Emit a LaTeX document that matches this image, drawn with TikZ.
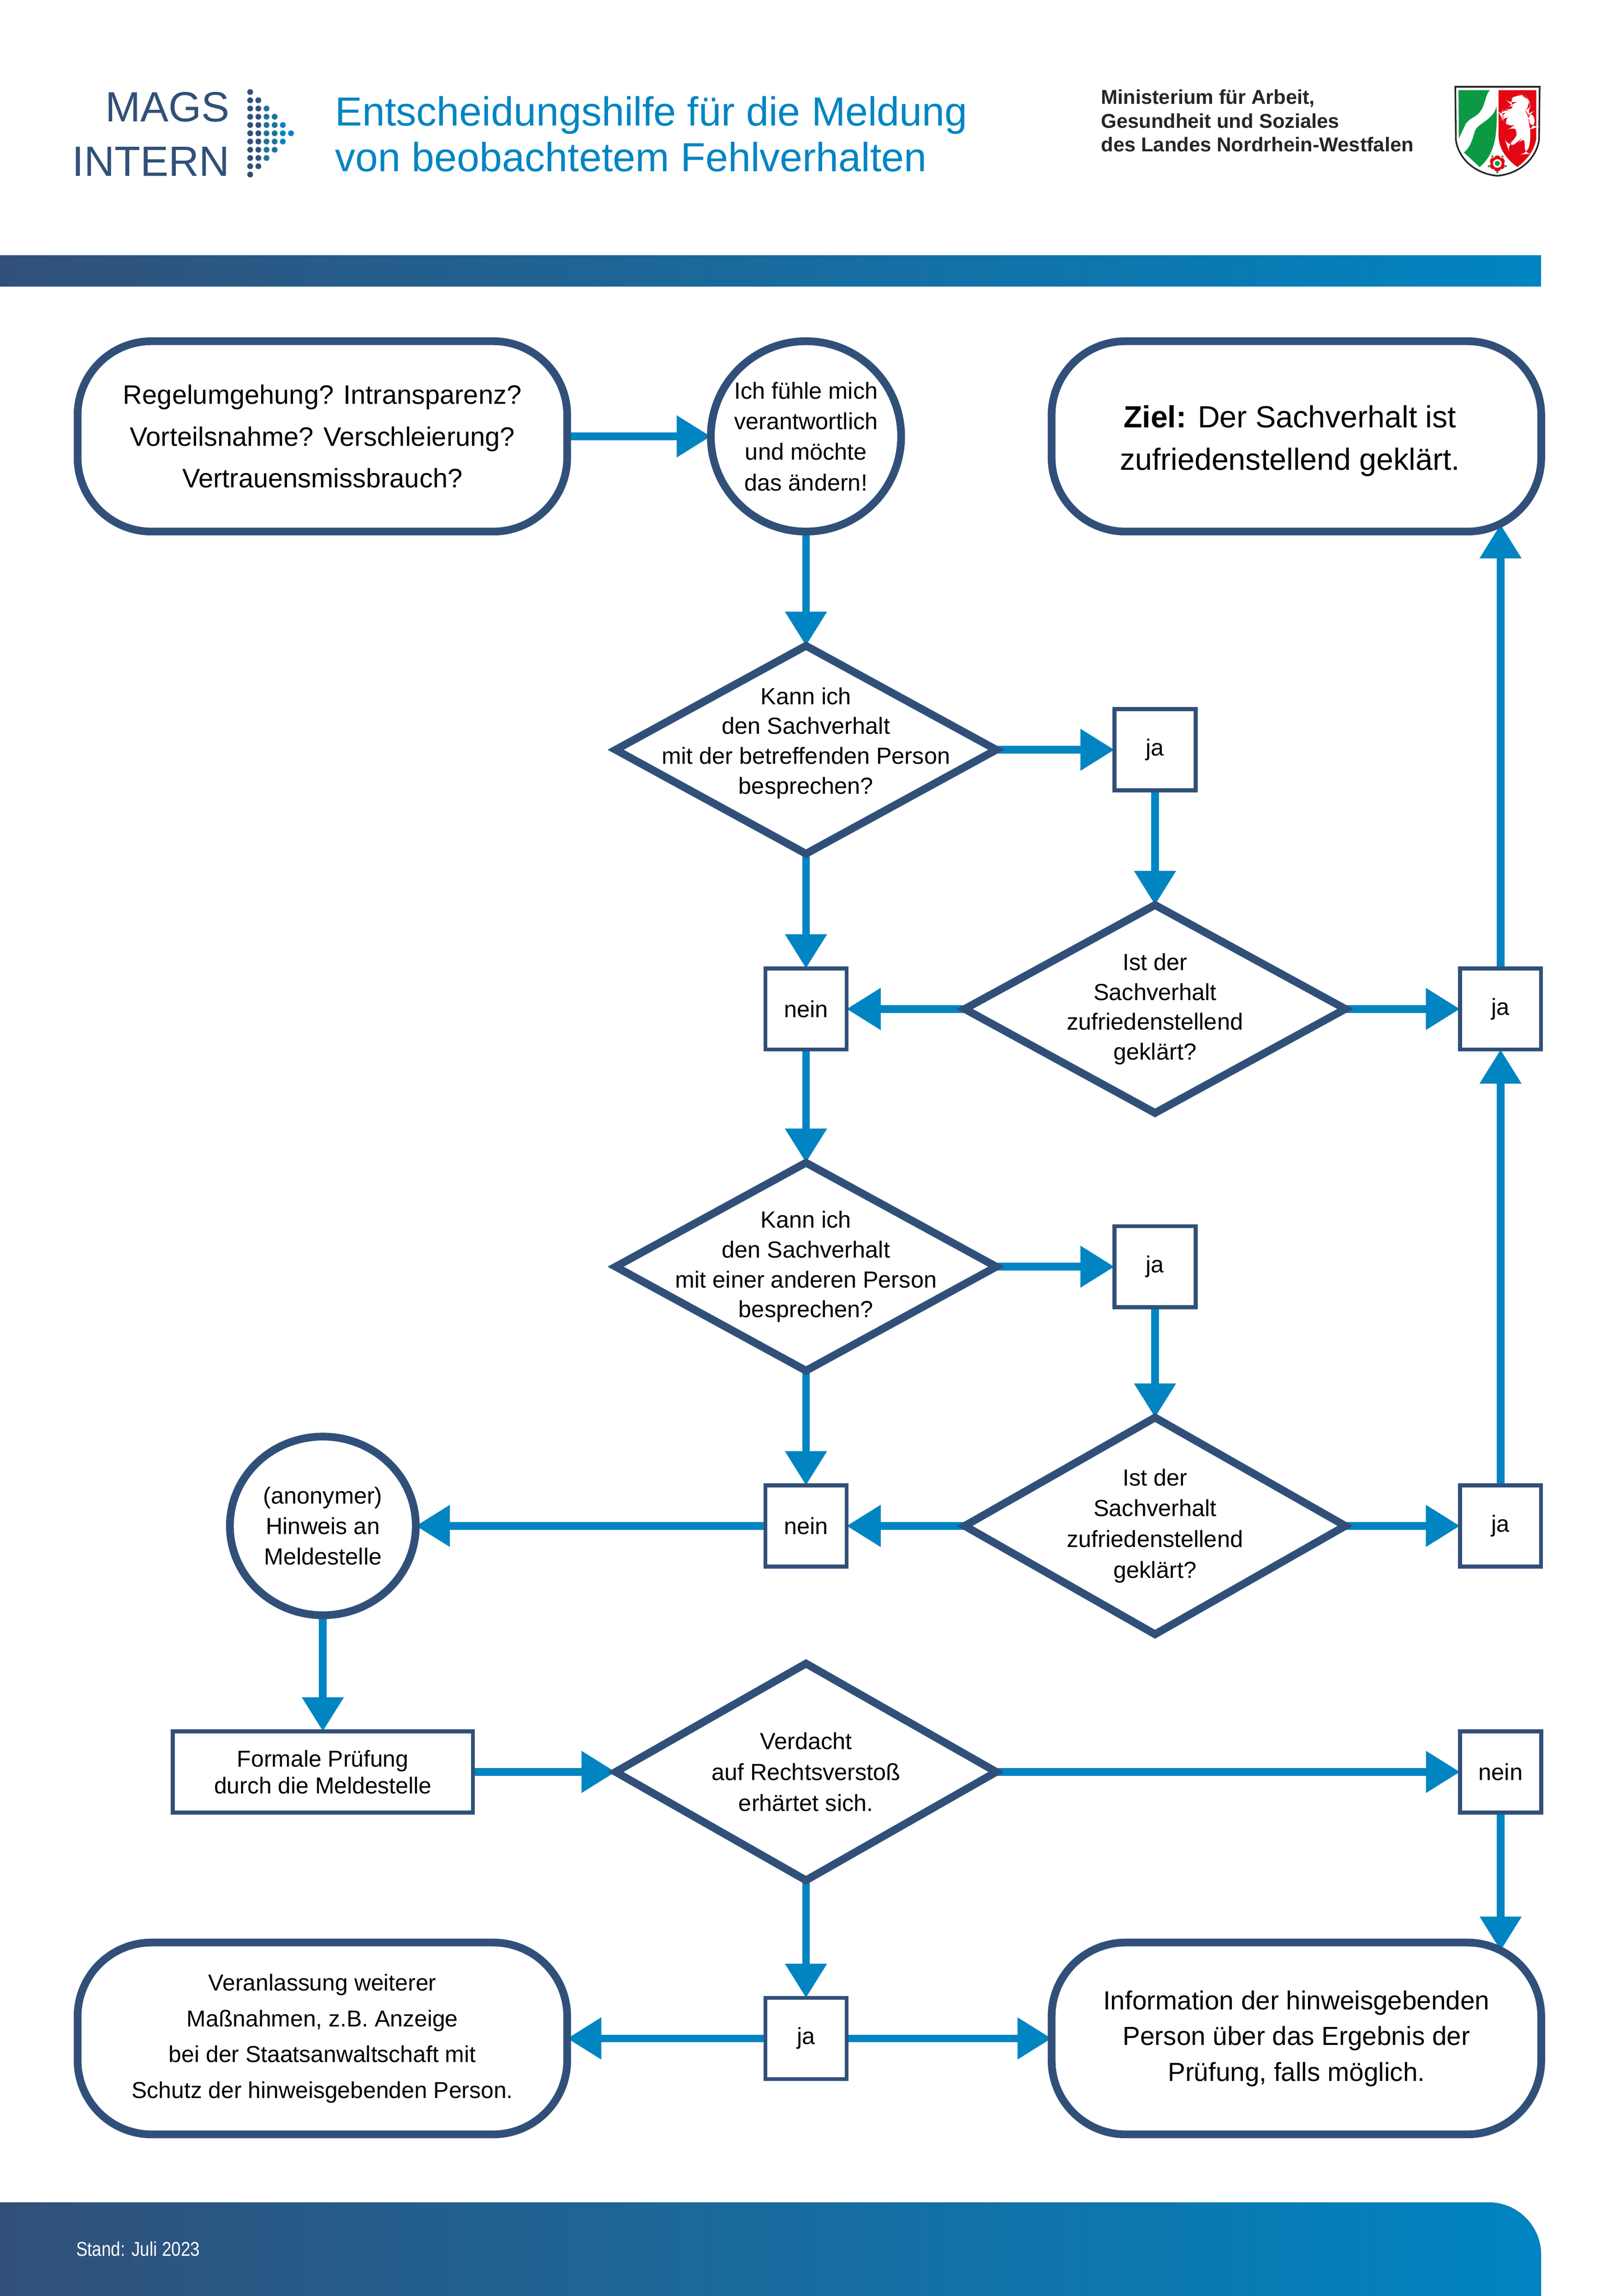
\documentclass[tikz,border=0pt]{standalone}
\usepackage{fontspec}
\setmainfont{Liberation Sans}
\newfontfamily\condfont[FakeStretch=0.85]{Liberation Sans}
\usepackage{xcolor}
\usetikzlibrary{arrows.meta, shapes.geometric, positioning, backgrounds}
\definecolor{navy}{HTML}{315079}
\definecolor{flowblue}{HTML}{0085C2}
\definecolor{midblue}{HTML}{1D7399}
\definecolor{nrwgreen}{HTML}{0B9A43}
\definecolor{nrwred}{HTML}{E30613}

\begin{document}
\begin{tikzpicture}[
                on grid,
                every node/.style={text=black, outer sep=0pt},
                endbox/.style={rectangle, rounded corners=0.96cm, draw=navy, line width=2.86pt, fill=white, minimum width=6.354cm, minimum height=2.47cm, align=center},
                roundnode/.style={draw=navy, line width=2.86pt, fill=white, inner sep=0pt, align=center, font=\fontsize{8.6}{11.3}\selectfont},
                question/.style={diamond, draw=navy, line width=2.86pt, fill=white, minimum width=4.94cm, minimum height=2.698cm, inner xsep=-1.2cm, inner ysep=-0.7cm, align=center, font=\fontsize{8.6}{11}\selectfont},
                answer/.style={rectangle, draw=navy, line width=1.45pt, fill=white, minimum size=1.053cm, font=\fontsize{8.6}{11}\selectfont},
                flow/.style={-{Triangle[length=12.6pt,width=14.75pt]}, color=flowblue, line width=2.85pt}
            ]
                \useasboundingbox (0,0) rectangle (21.006,-29.79);

                % Header and footer
                \fill[left color=navy, right color=flowblue] (0,-3.315) rectangle (20,-3.715);
                \fill[left color=navy, right color=flowblue] (0,-29.79) -- (0,-28.575) [rounded corners=0.68cm] -- (20,-28.575) [sharp corners] -- (20,-29.79) -- cycle;
                \node[anchor=east, inner sep=0pt, align=right, text=navy, font=\fontsize{15.6}{20}\selectfont] (logotext) at (2.98,-1.74) {MAGS\\INTERN};
                \node[anchor=west, inner sep=0pt, align=left, text=flowblue, font=\fontsize{15}{16.8}\selectfont] (title) at (4.351,-1.74) {Entscheidungshilfe für die Meldung\\von beobachtetem Fehlverhalten};
                \node[anchor=west, inner sep=0pt, align=left, text=black!85, font=\fontsize{7.4}{8.8}\selectfont\bfseries] (ministry) at (14.29,-1.567) {Ministerium für Arbeit,\\Gesundheit und Soziales\\des Landes Nordrhein-Westfalen};
                \node[anchor=west, inner sep=0pt, text=white, font=\fontsize{7.4}{10}\selectfont\condfont] (stand) at (0.988,-29.18) {Stand: Juli 2023};

                % Logo dots
                \foreach \col/\dotcolor in {0/navy,1/navy,2/midblue,3/midblue,4/flowblue,5/flowblue} {
                    \pgfmathtruncatemacro{\rows}{5-\col}
                    \foreach \row in {-\rows,...,\rows}
                        \fill[\dotcolor] ({3.247+0.1058*\col},{-1.729+0.107*\row}) circle (0.0377);
                }

                % Coat of arms
                \begin{scope}[shift={(18.263,-0.778)}, x=0.001996cm, y=-0.001996cm]
                    \draw[black!85, line width=0.6pt, fill=white] (312,174) -- (860,174) -- (856,520) .. controls (835,650) and (720,740) .. (585,752) .. controls (450,740) and (335,650) .. (316,520) -- cycle;
                    \fill[nrwgreen] (333,196) -- (537,196) .. controls (505,225) and (510,290) .. (470,340) .. controls (440,375) and (395,380) .. (375,425) -- (335,510) -- cycle;
                    \fill[nrwgreen] (580,300) .. controls (583,450) and (585,600) .. (470,695) -- (368,600) .. controls (410,570) and (425,510) .. (440,460) .. controls (460,410) and (560,390) .. (580,300) -- cycle;
                    \fill[nrwred] (593,196) -- (838,196) -- (838,510) .. controls (825,590) and (775,650) .. (715,695) .. controls (640,640) and (590,570) .. (593,480) -- cycle;
                    \fill[white, rounded corners=3pt] (712,218) -- (770,235) -- (790,265) -- (800,300) -- (770,330) -- (785,350) -- (790,420) -- (805,490) -- (782,610) -- (755,612) -- (772,520) -- (750,495) -- (725,540) -- (650,562) -- (645,548) -- (708,520) -- (718,455) -- (695,425) -- (665,445) -- (620,385) -- (650,372) -- (640,340) -- (612,372) -- (605,360) -- (625,308) -- (680,340) -- (698,280) -- (678,292) -- (655,272) -- cycle;
                    \fill[white, rounded corners=3pt] (782,350) -- (820,333) -- (832,440) -- (815,445) -- (785,390) -- cycle;
                    \foreach \ang in {30,90,...,330}
                        \fill[nrwred] (585,672) ++(\ang:30) circle (22);
                    \fill[white] (585,672) circle (28);
                    \fill[nrwgreen] (585,672) circle (17);
                    \foreach \dotx/\doty in {553/627,618/627,530/690,640/690,585/730}
                        \fill[nrwgreen] (\dotx,\doty) circle (7);
                \end{scope}

                % Top row
                \node[endbox, font=\fontsize{9.85}{15.4}\selectfont] (start) at (4.184,-5.662) {Regelumgehung? Intransparenz?\\Vorteilsnahme? Verschleierung?\\Vertrauensmissbrauch?};
                \node[roundnode, circle, minimum size=2.47cm, right=6.276cm of start] (feel) {Ich fühle mich\\verantwortlich\\und möchte\\das ändern!};
                \node[endbox, font=\fontsize{11.3}{15.7}\selectfont, right=6.365cm of feel] (goal) {\rule{0pt}{11.5pt}\textbf{Ziel:} Der Sachverhalt ist\hspace*{4.8pt}\\zufriedenstellend geklärt.\hspace*{4.8pt}};

                % First talk
                \node[question, text depth=6.7pt, below=4.066cm of feel] (talkone) {Kann ich\\den Sachverhalt\\mit der betreffenden Person\\besprechen?};
                \node[answer, right=4.53cm of talkone] (yesone) {ja};
                \node[question, below=3.363cm of yesone] (solvedone) {Ist der\\Sachverhalt\\zufriedenstellend\\geklärt?};
                \node[answer, below=3.363cm of talkone] (noone) {nein};
                \node[answer, right=4.484cm of solvedone] (doneone) {ja};

                % Second talk
                \node[question, below=3.344cm of noone] (talktwo) {Kann ich\\den Sachverhalt\\mit einer anderen Person\\besprechen?};
                \node[answer, right=4.53cm of talktwo] (yestwo) {ja};
                \node[question, minimum height=2.812cm, below=3.363cm of yestwo, font=\fontsize{8.6}{11.4}\selectfont] (solvedtwo) {Ist der\\Sachverhalt\\zufriedenstellend\\geklärt?};
                \node[answer, below=3.363cm of talktwo] (notwo) {nein};
                \node[answer, right=4.484cm of solvedtwo] (donetwo) {ja};

                % Reporting
                \node[roundnode, ellipse, minimum width=2.413cm, minimum height=2.318cm, left=6.27cm of notwo] (hint) {(anonymer)\\Hinweis an\\Meldestelle};
                \node[answer, minimum width=3.895cm, align=center, below=3.192cm of hint, font=\fontsize{8.5}{9.8}\selectfont] (check) {Formale Prüfung\\durch die Meldestelle};
                \node[question, minimum height=2.812cm, right=6.27cm of check, font=\fontsize{8.6}{11.4}\selectfont] (suspicion) {Verdacht\\auf Rechtsverstoß\\erhärtet sich.};
                \node[answer, right=9.0155cm of suspicion] (nothree) {nein};
                \node[answer, below=3.458cm of suspicion] (yesthree) {ja};
                \node[endbox, left=6.276cm of yesthree, minimum height=2.489cm, font=\fontsize{8.5}{13.2}\selectfont] (measures) {Veranlassung weiterer\\Maßnahmen, z.B. Anzeige\\bei der Staatsanwaltschaft mit\\Schutz der hinweisgebenden Person.};
                \node[endbox, right=6.365cm of yesthree, minimum height=2.489cm, font=\fontsize{9.65}{13.2}\selectfont] (inform) {Information der hinweisgebenden\\Person über das Ergebnis der\\Prüfung, falls möglich.};

                % Connectors
                \begin{scope}[on background layer]
                \path[flow]
                    (start) edge (feel)
                    (feel) edge (talkone)
                    (talkone) edge (yesone)
                    (yesone) edge (solvedone)
                    (talkone) edge (noone)
                    (solvedone) edge (noone)
                    (solvedone) edge (doneone)
                    (doneone) edge[shorten >=-2.7pt] (doneone |- goal.south)
                    (noone) edge (talktwo)
                    (talktwo) edge (yestwo)
                    (yestwo) edge (solvedtwo)
                    (talktwo) edge (notwo)
                    (solvedtwo) edge (notwo)
                    (solvedtwo) edge (donetwo)
                    (donetwo) edge (doneone)
                    (notwo) edge (hint)
                    (hint) edge (check)
                    (check) edge (suspicion)
                    (suspicion) edge (nothree)
                    (nothree) edge[shorten >=-3pt] (nothree |- inform.north)
                    (suspicion) edge (yesthree)
                    (yesthree) edge (measures)
                    (yesthree) edge (inform);
                \end{scope}
            \end{tikzpicture}
\end{document}
